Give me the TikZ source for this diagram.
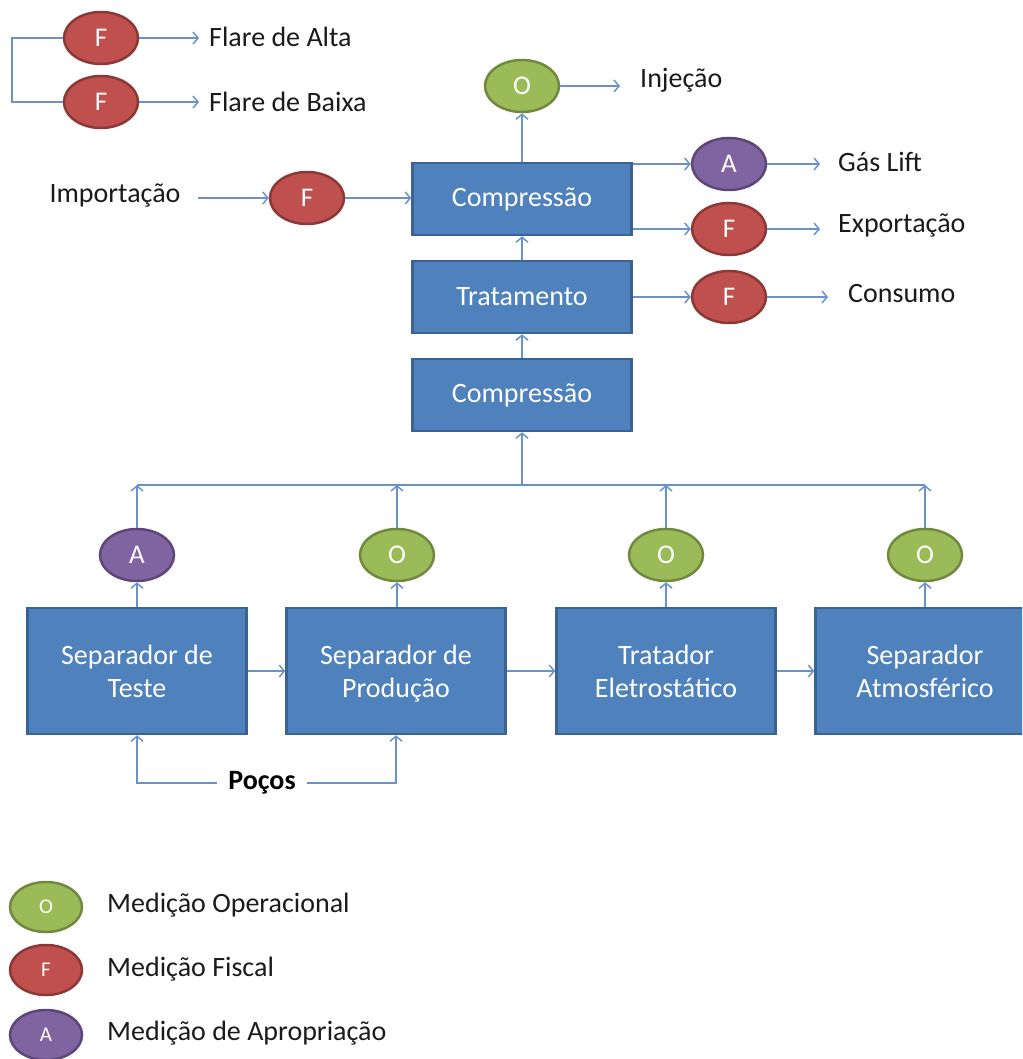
\documentclass[tikz,border=0pt]{standalone}
\usepackage{fontspec}
\setmainfont{Carlito}
\usetikzlibrary{arrows.meta,shapes.geometric}
\definecolor{boxfill}{HTML}{4F81BD}
\definecolor{boxdraw}{HTML}{3A6294}
\definecolor{gfill}{HTML}{9BBB59}
\definecolor{gdraw}{HTML}{71893F}
\definecolor{rfill}{HTML}{C0504D}
\definecolor{rdraw}{HTML}{8C3836}
\definecolor{pfill}{HTML}{8064A2}
\definecolor{pdraw}{HTML}{5C4776}
\definecolor{lnc}{HTML}{6A92C8}
\definecolor{txt}{HTML}{1A1A1A}
\tikzset{
  procbox/.style={rectangle, draw=boxdraw, line width=2.5pt, fill=boxfill, text=white,
    minimum width=219pt, minimum height=72pt, align=center, inner sep=2pt,
    font=\fontsize{28}{33}\selectfont},
  meas/.style={ellipse, line width=2.5pt, minimum width=74pt, minimum height=52pt,
    inner sep=0pt, text=white, font=\fontsize{27}{30}\selectfont},
  mo/.style={meas, fill=gfill, draw=gdraw},
  mf/.style={meas, fill=rfill, draw=rdraw},
  ma/.style={meas, fill=pfill, draw=pdraw},
  legm/.style={minimum width=72pt, minimum height=50pt, font=\fontsize{21}{24}\selectfont},
  lbl/.style={text=txt, font=\fontsize{28}{32}\selectfont, inner sep=2pt},
  ln/.style={draw=lnc, line width=1.8pt},
  arr/.style={ln, -{Straight Barb[length=5pt,width=12pt,line width=1.5pt]}},
}
\begin{document}
\begin{tikzpicture}[x=1pt,y=-1pt]
\useasboundingbox (0,0) rectangle (1022,1059);
\clip (0,0) rectangle (1022,1059);

% flares
\node[mf] (fa) at (101,38) {F};
\node[mf] (fb) at (101,102) {F};
\node[lbl, anchor=west] (tfa) at (207,37) {Flare de Alta};
\node[lbl, anchor=west] (tfb) at (207,102) {Flare de Baixa};
\draw[arr, shorten >=8pt] (fa.east) -- (tfa.west |- fa.east);
\draw[arr, shorten >=8pt] (fb.east) -- (tfb.west |- fb.east);
\draw[ln] (fa.west) -- ++(-51,0) |- (fb.west);

% top process chain
\node[procbox] (c1) at (522,199) {Compressão};
\node[procbox] (tr) at (522,297) {Tratamento};
\node[procbox] (c2) at (522,395) {Compressão};

\node[mo] (oi) at (522,86) {O};
\node[lbl, anchor=west] (tinj) at (638,80) {Injeção};
\draw[arr] (c1.north) -- (oi.south);
\draw[arr, shorten >=18pt] (oi.east) -- (tinj.west |- oi.east);

\node[lbl] (timp) at (115,196) {Importação};
\node[mf] (fi) at (307,198) {F};
\draw[arr, shorten <=15pt] (timp.east |- fi.west) -- (fi.west);
\draw[arr] (fi.east) -- (c1.west |- fi.east);

\node[ma] (ag) at (729,164) {A};
\node[mf] (fe) at (729,229) {F};
\node[mf] (fc) at (729,297) {F};
\node[lbl, anchor=west] (tgl) at (836,162) {Gás Lift};
\node[lbl, anchor=west] (tex) at (836,226) {Exportação};
\node[lbl, anchor=west] (tco) at (846,294) {Consumo};
\draw[arr] (c1.east |- ag.west) -- (ag.west);
\draw[arr] (c1.east |- fe.west) -- (fe.west);
\draw[arr] (tr.east) -- (fc.west);
\draw[arr, shorten >=16pt] (ag.east) -- (tgl.west |- ag.east);
\draw[arr, shorten >=16pt] (fe.east) -- (tex.west |- fe.east);
\draw[arr, shorten >=18pt] (fc.east) -- (tco.west |- fc.east);
\draw[arr] (tr.north) -- (c1.south);
\draw[arr] (c2.north) -- (tr.south);

% bottom separators
\node[procbox, minimum height=126pt] (st) at (137,671) {Separador de\\Teste};
\node[procbox, minimum height=126pt] (sp) at (396,671) {Separador de\\\raisebox{0pt}[\height][0pt]{Produção}};
\node[procbox, minimum height=126pt] (te) at (666,671) {Tratador\\Eletrostático};
\node[procbox, minimum height=126pt] (sa) at (925,671) {Separador\\Atmosférico};

\node[ma] (m1) at (137,555) {A};
\node[mo] (m2) at (397,555) {O};
\node[mo] (m3) at (666,555) {O};
\node[mo] (m4) at (925,555) {O};

\coordinate (bus) at (522,485);
\coordinate (busl) at (137,485);
\coordinate (busr) at (925,485);
\draw[ln] (busl) -- (busr);
\draw[arr] (bus) -- (c2.south);
\foreach \m/\s in {m1/st, m2/sp, m3/te, m4/sa}{
  \draw[arr] (\s.north -| \m.south) -- (\m.south);
  \draw[arr] (\m.north) -- (\m.north |- bus);
}
\draw[arr] (st.east) -- (sp.west);
\draw[arr] (sp.east) -- (te.west);
\draw[arr] (te.east) -- (sa.west);

\node[lbl, font=\fontsize{28}{32}\selectfont\bfseries, text=black] (pocos) at (262,783) {Poços};
\draw[arr, shorten <=9pt] (pocos.west) -| (st.south);
\draw[arr, shorten <=9pt] (pocos.east) -| (sp.south);

% legend
\node[mo, legm] (lo) at (46,907) {O};
\node[mf, legm] (lf) at (46,970) {F};
\node[ma, legm] (la) at (46,1035) {A};
\node[lbl, anchor=west] (tlo) at (105,905) {Medição Operacional};
\node[lbl, anchor=west] (tlf) at (105,969) {Medição Fiscal};
\node[lbl, anchor=west] (tla) at (105,1033) {Medição de Apropriação};
\end{tikzpicture}
\end{document}
